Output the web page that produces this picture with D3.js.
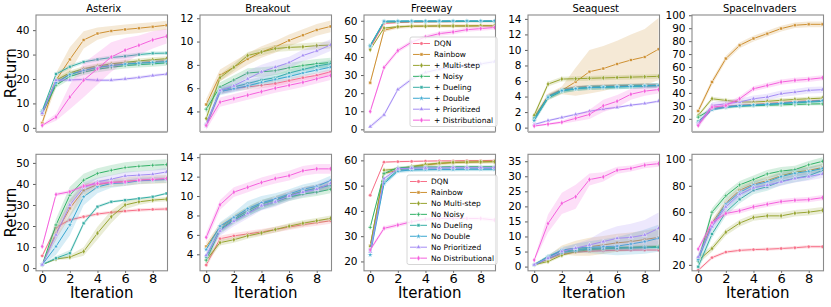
<!DOCTYPE html>
<html>
<head>
<meta charset="utf-8">
<script src="https://cdn.jsdelivr.net/npm/d3@7"></script>
<style>
body { margin: 0; background: #fff; }
svg { display: block; font-family: "DejaVu Sans", sans-serif; }
</style>
</head>
<body>
<div id="plot"></div>
<script>
// Iterations on the x axis, games across the columns.
var iterations = [0, 1, 2, 3, 4, 5, 6, 7, 8, 9];
var games = ["Asterix", "Breakout", "Freeway", "Seaquest", "SpaceInvaders"];
var addNames = ["DQN", "Rainbow", "+ Multi-step", "+ Noisy", "+ Dueling", "+ Double", "+ Prioritized", "+ Distributional"];
var ablateNames = ["DQN", "Rainbow", "No Multi-step", "No Noisy", "No Dueling", "No Double", "No Prioritized", "No Distributional"];
var colors = ["#f77189", "#ce9032", "#97a431", "#32b166", "#36ada4", "#39a7d0", "#a48cf4", "#f561dd"];

// Top row: adding one component to DQN. Series order follows addNames.
var asterixAdd = [
    [5.5, 18.5, 22, 23.5, 24.8, 25.6, 26.2, 26.7, 27.1, 27.5],
    [2, 19.5, 28, 36, 38.6, 39.7, 40.3, 40.8, 41.4, 42],
    [6.5, 19.5, 22.5, 24.2, 25.3, 26.2, 26.8, 27.4, 27.9, 28.3],
    [6, 17.5, 21, 22.8, 24, 24.8, 25.5, 25.9, 26.2, 26.6],
    [7, 22, 25, 27, 28, 28.8, 29.3, 30, 30.5, 30.6],
    [6.5, 18.5, 21.8, 23.5, 24.7, 25.5, 26.1, 26.5, 26.8, 27.1],
    [6, 19.5, 19.6, 19.8, 19.5, 19.5, 20, 20.6, 21.4, 22],
    [1, 4.4, 12.6, 19.5, 24.2, 29, 31.8, 33.8, 36, 37.5]
];
var asterixAddSpread = [1, [1, 3, 5, 3.5, 2.5, 2, 2, 2, 1.8, 1.8], 1, 1.2, 0.8, 1, 0.6,
    [0.5, 1.5, 5, 7, 6.5, 6, 5, 4, 3.5, 3]];

var breakoutAdd = [
    [2.8, 5.7, 6.0, 6.1, 6.25, 6.4, 6.65, 6.9, 7.1, 7.4],
    [4.6, 7.1, 7.8, 8.5, 9.1, 9.55, 10.1, 10.55, 11, 11.3],
    [3.4, 6.9, 7.8, 8.8, 9.1, 9.4, 9.5, 9.55, 9.65, 9.7],
    [4.2, 6.1, 6.7, 7.3, 7.4, 7.5, 7.75, 7.95, 8.1, 8.2],
    [2.9, 5.8, 6.1, 6.4, 6.7, 6.9, 7.3, 7.6, 7.9, 8.1],
    [2.8, 5.7, 5.95, 6.2, 6.5, 6.75, 7.0, 7.3, 7.55, 7.8],
    [2.9, 5.8, 6.2, 6.8, 7.4, 7.8, 8.2, 8.8, 9.2, 9.7],
    [2.8, 4.8, 5.1, 5.4, 5.7, 6.0, 6.25, 6.5, 6.8, 7.1]
];
var breakoutAddSpread = [0.25, 0.5, 0.3, 0.4, 0.3, 0.3,
    [0.1, 0.3, 0.5, 0.7, 0.6, 0.6, 0.5, 0.5, 0.5, 0.5], 0.4];

var freewayAdd = [
    [45, 58.5, 59, 59.3, 59.4, 59.5, 59.5, 59.6, 59.6, 59.7],
    [25.8, 54.8, 56.6, 57, 57.1, 57.2, 57.2, 57.2, 57.3, 57.3],
    [44, 56, 56.7, 57, 57, 57.1, 57.1, 57.1, 57.2, 57.2],
    [46, 59.3, 59.4, 59.5, 59.5, 59.5, 59.6, 59.6, 59.6, 59.6],
    [46.5, 59.8, 59.8, 59.9, 59.9, 59.9, 59.9, 59.9, 59.9, 59.9],
    [46, 59.7, 59.8, 59.8, 59.8, 59.8, 59.9, 59.9, 59.9, 59.9],
    [1.5, 8, 22, 27.7, 31.4, 33.3, 34.4, 35.3, 36.2, 37.4],
    [9.9, 34.2, 43.5, 48.2, 51, 52.9, 53.8, 55.1, 55.7, 56.3]
];
var freewayAddSpread = [0.5, 1, 0.5, 0.5, 0.5, 0.5, 1, 1.2];

var seaquestAdd = [
    [1.1, 4.1, 4.9, 5.2, 5.3, 5.35, 5.4, 5.45, 5.5, 5.5],
    [1.4, 4, 4.8, 5.9, 7.2, 7.6, 8.2, 8.7, 9.1, 10.1],
    [1.6, 5.6, 6.25, 6.3, 6.35, 6.4, 6.45, 6.5, 6.55, 6.6],
    [1.0, 3.8, 4.7, 5.0, 5.15, 5.2, 5.25, 5.3, 5.35, 5.4],
    [1.2, 4.0, 4.8, 5.05, 5.2, 5.25, 5.3, 5.35, 5.4, 5.45],
    [0.9, 3.9, 4.75, 5.0, 5.15, 5.2, 5.25, 5.3, 5.35, 5.4],
    [0.4, 0.9, 1.3, 1.7, 2.1, 2.4, 2.6, 2.9, 3.1, 3.4],
    [0.2, 0.45, 0.7, 1.2, 1.7, 2.8, 3.4, 4.3, 4.7, 4.9]
];
var seaquestAddSpread = [0.2, [0.3, 0.4, 0.5, 1.8, 2.8, 2.9, 3.0, 3.3, 3.6, 4.0], 0.3, 0.3, 0.3, 0.3, 0.15,
    [0.1, 0.15, 0.2, 0.4, 0.6, 0.8, 0.8, 0.7, 0.6, 0.5]];

var spaceAdd = [
    [17, 27.5, 29.5, 30.5, 31, 31.8, 32.5, 33.3, 33.8, 34.3],
    [26, 48.4, 66.5, 76.8, 82, 85.8, 89.7, 92.3, 93, 93],
    [22.6, 35.5, 34.2, 33, 33, 33.5, 34.3, 35, 35.5, 36],
    [21.3, 27.7, 29, 29.8, 30.2, 30.5, 30.8, 31.1, 31.4, 31.6],
    [18, 27.5, 29.3, 30, 30.5, 31, 31.7, 32.3, 32.9, 33.5],
    [16.5, 27, 29, 30, 30.6, 31.3, 32, 32.8, 33.4, 34],
    [16, 30.3, 31.6, 33, 35.5, 36.8, 39.4, 40.6, 42, 42.5],
    [14.8, 29, 30.3, 35.5, 43.2, 45.8, 48.4, 49.7, 50.5, 51.7]
];
var spaceAddSpread = [1, 2.2, 1.5, 1.2, 1, 1, 2.5, 2];

// Bottom row: removing one component from Rainbow. Series order follows ablateNames.
var asterixAblate = [
    [5.8, 19.4, 22.9, 24.4, 25.7, 26.5, 27.1, 27.6, 27.9, 28.1],
    [1.6, 16.6, 28.4, 37, 39.7, 40.7, 41.2, 41.8, 42.1, 42.3],
    [1.6, 4.3, 5.2, 7.9, 16.6, 24.4, 30, 31.5, 32.3, 32.8],
    [1.6, 20.5, 34.7, 41.8, 45, 46.5, 47.8, 48.4, 48.9, 49.2],
    [1.6, 4.7, 7.1, 21.3, 29.2, 31.5, 32.3, 33.1, 33.9, 35.5],
    [1.6, 10.3, 20.5, 33.9, 38.6, 40.2, 40.5, 41.5, 41.8, 42.1],
    [1.6, 15.8, 30, 38.3, 41, 42.3, 43.8, 44.2, 44.6, 45.7],
    [10.3, 35, 36.3, 39, 40.2, 40.7, 41, 41.8, 42.1, 42.6]
];
var asterixAblateSpread = [0.8, [0.3, 3, 4, 3, 2, 2, 2, 2, 2, 2], [0.2, 0.5, 1, 2, 3, 3, 2, 1.5, 1, 1],
    [0.3, 3, 4, 3, 2.5, 2.5, 2.5, 2.5, 2.5, 2.5], [0.2, 1, 1.5, 1, 0.8, 0.6, 0.5, 0.5, 0.5, 0.5],
    [0.3, 4, 5, 4, 3, 2, 1.5, 1.5, 1.5, 1.5], [0.3, 2.5, 3, 2.5, 2, 2, 2, 2, 2, 2], 0.8];

var breakoutAblate = [
    [2.9, 5.6, 5.9, 6.1, 6.3, 6.55, 6.8, 7.05, 7.25, 7.45],
    [4.8, 6.8, 7.7, 8.5, 9.2, 9.6, 10.1, 10.5, 10.8, 11.2],
    [3.4, 5.2, 5.5, 5.9, 6.2, 6.55, 6.9, 7.2, 7.45, 7.7],
    [3.4, 6.5, 7.5, 8.3, 9.0, 9.4, 9.9, 10.2, 10.4, 10.7],
    [3.75, 6.6, 7.6, 8.5, 9.2, 9.6, 10.0, 10.5, 10.8, 11.1],
    [4.5, 6.9, 7.8, 8.7, 9.3, 9.7, 10.2, 10.7, 11.0, 11.6],
    [3.9, 6.4, 7.4, 8.2, 9.0, 9.4, 10.0, 10.4, 10.7, 11.3],
    [5.75, 9.1, 10.4, 10.9, 11.4, 11.8, 12.1, 12.6, 12.8, 12.8]
];
var breakoutAblateSpread = [0.3, 0.4, 0.3, 0.4, 0.4,
    [0.2, 0.4, 0.5, 0.8, 0.7, 0.6, 0.5, 0.5, 0.5, 0.5], 0.5, 0.5];

var freewayAblate = [
    [46.2, 59.3, 59.5, 59.6, 59.7, 59.8, 59.8, 59.9, 59.9, 60],
    [26.2, 54.8, 56.1, 57.4, 58.2, 58.7, 59.1, 59.3, 59.4, 59.5],
    [26, 56.1, 56.6, 57.6, 58.4, 58.9, 59.2, 59.3, 59.4, 59.5],
    [33.5, 54.8, 57.1, 57.3, 57.4, 57.4, 57.5, 57.5, 57.5, 57.5],
    [24.6, 51.5, 56.1, 56.4, 56.5, 56.5, 56.5, 56.6, 56.6, 56.6],
    [22.6, 50.8, 55.7, 56.2, 56.3, 56.4, 56.4, 56.5, 56.5, 56.5],
    [23.9, 52.8, 56.7, 56.9, 57, 57, 57.1, 57.1, 57.1, 57.1],
    [24.6, 33.1, 34.4, 35.7, 36.7, 37, 37, 37, 37, 36.4]
];
var freewayAblateSpread = [0.3, 0.6, 0.6, 0.6, 0.7, 0.8, 0.7, 0.8];

var seaquestAblate = [
    [0.6, 2.5, 4.2, 4.8, 5.1, 5.3, 5.4, 5.45, 5.5, 5.5],
    [0.6, 2.8, 5.5, 6.1, 6.6, 7.2, 7.9, 8.3, 9, 9.7],
    [0.6, 1.7, 3.8, 5.0, 5.6, 5.9, 6.1, 6.3, 6.5, 6.6],
    [0.6, 3.3, 5.0, 5.7, 6.0, 6.2, 6.3, 6.4, 6.5, 6.6],
    [0.6, 2.7, 4.6, 5.4, 5.8, 6.0, 6.1, 6.2, 6.3, 6.4],
    [0.6, 3.3, 5.5, 6.1, 6.4, 6.6, 6.8, 7.5, 8.3, 9.4],
    [0.6, 2.8, 5.0, 6.1, 7.2, 8.3, 9.4, 9.7, 10.5, 12.7],
    [2.2, 14.3, 21, 23.2, 28.9, 29.8, 32, 32.6, 33.7, 34.2]
];
var seaquestAblateSpread = [0.4, [0.2, 0.8, 1.5, 2.5, 3, 3, 3, 3, 3, 3], 0.5, 0.5, 0.5,
    [0.2, 0.6, 1, 1.5, 2, 2.5, 3, 3.5, 4, 4.5], [0.2, 0.6, 1, 1.5, 2, 3.5, 4, 4.5, 5, 5.3],
    [0.5, 3, 3.5, 4, 2, 1.5, 1.2, 1, 1, 1]];

var spaceAblate = [
    [15.9, 25.5, 29.7, 31, 31.6, 31.9, 32.4, 33, 33.8, 33.8],
    [25, 51.7, 66.9, 76.6, 81.2, 84, 87.6, 90.3, 91.7, 93.9],
    [23.3, 32.4, 44.8, 51.7, 55.9, 57.2, 57.2, 59.2, 60, 61.4],
    [22.8, 60, 72.4, 80.7, 84.8, 89, 91.2, 92.3, 95.9, 98.6],
    [18.6, 43.4, 60, 69.7, 76.6, 79.3, 83.4, 85.7, 87.6, 91.7],
    [24, 50, 66, 75, 80.5, 83, 87, 89.5, 91, 93.1],
    [26, 49, 64, 73.5, 78.5, 80.5, 83, 85.5, 87, 89],
    [32, 52, 59, 61, 64, 66, 68, 69, 69.5, 71]
];
var spaceAblateSpread = [1.2, 3, 2.5, 3, 3, 3, 3, 2];

// Tick values shown on each panel's y axis.
var addTicks = [[0, 10, 20, 30, 40], [4, 6, 8, 10, 12], [0, 10, 20, 30, 40, 50, 60],
    [0, 2, 4, 6, 8, 10, 12, 14], [20, 30, 40, 50, 60, 70, 80, 90, 100]];
var ablateTicks = [[0, 10, 20, 30, 40, 50], [4, 6, 8, 10, 12, 14], [20, 30, 40, 50, 60],
    [0, 5, 10, 15, 20, 25, 30, 35], [20, 40, 60, 80, 100]];
var xTicks = [0, 2, 4, 6, 8];

var addDomains = [[-1.5, 46.2], [2.28, 12.28], [-1.2, 63.2], [-0.5, 14.5], [10.2, 100.2]];
var ablateDomains = [[-1.3, 54.1], [2.3, 14.3], [16.3, 62.4], [-1.4, 37.3], [15.5, 103.9]];

var rows = [
    {names: addNames, means: [asterixAdd, breakoutAdd, freewayAdd, seaquestAdd, spaceAdd],
     spreads: [asterixAddSpread, breakoutAddSpread, freewayAddSpread, seaquestAddSpread, spaceAddSpread],
     ticks: addTicks, domains: addDomains},
    {names: ablateNames, means: [asterixAblate, breakoutAblate, freewayAblate, seaquestAblate, spaceAblate],
     spreads: [asterixAblateSpread, breakoutAblateSpread, freewayAblateSpread, seaquestAblateSpread, spaceAblateSpread],
     ticks: ablateTicks, domains: ablateDomains}
];

var width = 831, height = 307;
var left0 = 36, colStep = 164, panelW = 131.5, panelH = 116.5;
var rowTops = [15, 154.3];
var spineColor = "#8a8a8a";
var symbols = [d3.symbolCircle, d3.symbolSquare, d3.symbolDiamond, d3.symbolCross,
    d3.symbolSquare, d3.symbolStar, d3.symbolTriangle, d3.symbolDiamond];

var svg = d3.select("div#plot").append("svg")
    .attr("width", width)
    .attr("height", height)
    .attr("viewBox", "0 0 " + width + " " + height);

var x_scale = d3.scaleLinear().domain([-0.45, 9.07]).range([0, panelW]);

function spreadAt(s, i) {
    return Array.isArray(s) ? s[i] : s;
}

rows.forEach(function(row, r) {
    games.forEach(function(game, c) {
        var g = svg.append("g")
            .attr("transform", "translate(" + (left0 + c * colStep) + "," + rowTops[r] + ")");

        var y_scale = d3.scaleLinear().domain(row.domains[c]).range([panelH, 0]);

        var clipId = "clip_" + r + "_" + c;
        g.append("clipPath").attr("id", clipId)
            .append("rect").attr("width", panelW).attr("height", panelH);

        var g_data = g.append("g").attr("clip-path", "url(#" + clipId + ")");

        // Bands, lines and markers, one series at a time like seaborn does.
        row.means[c].forEach(function(vals, k) {
            var sd = row.spreads[c][k];
            var pts = iterations.map(function(it, i) {
                return {x: it, y: vals[i], lo: vals[i] - spreadAt(sd, i), hi: vals[i] + spreadAt(sd, i)};
            });

            g_data.append("path")
                .datum(pts)
                .attr("d", d3.area()
                    .x(d => x_scale(d.x))
                    .y0(d => y_scale(d.lo))
                    .y1(d => y_scale(d.hi)))
                .style("fill", colors[k])
                .style("fill-opacity", 0.2)
                .style("stroke", "none");

            g_data.append("path")
                .datum(pts)
                .attr("d", d3.line().x(d => x_scale(d.x)).y(d => y_scale(d.y)))
                .style("fill", "none")
                .style("stroke", colors[k])
                .style("stroke-width", 1);

            g_data.selectAll("path.m" + k)
                .data(pts)
                .join("path")
                    .attr("class", "m" + k)
                    .attr("transform", d => "translate(" + x_scale(d.x) + "," + y_scale(d.y) + ")")
                    .attr("d", d3.symbol().type(symbols[k]).size(9))
                    .style("fill", colors[k])
                    .style("stroke", "#fff")
                    .style("stroke-width", 0.5);
        });

        // Y axis.
        var g_y = g.append("g")
            .call(d3.axisLeft(y_scale).tickValues(row.ticks[c]).tickSize(3).tickPadding(3.5));
        g_y.select(".domain").remove();
        g_y.selectAll(".tick line").style("stroke", "#333").style("stroke-width", 0.8);
        g_y.selectAll(".tick text")
            .style("font-family", "'DejaVu Sans'")
            .style("font-size", "10.5px")
            .style("fill", "#000");

        // X axis labels only on the bottom row.
        if (r === 1) {
            var g_x = g.append("g")
                .attr("transform", "translate(0," + panelH + ")")
                .call(d3.axisBottom(x_scale).tickValues(xTicks).tickSize(2).tickPadding(0.5));
            g_x.select(".domain").remove();
            g_x.selectAll(".tick line").style("stroke", "#333").style("stroke-width", 0.8);
            g_x.selectAll(".tick text")
                .style("font-family", "'DejaVu Sans'")
                .style("font-size", "13px")
                .style("fill", "#000");

            g.append("text")
                .attr("x", panelW / 2)
                .attr("y", panelH + 27)
                .attr("text-anchor", "middle")
                .style("font-size", "15px")
                .text("Iteration");
        } else {
            g.append("text")
                .attr("x", panelW / 2 + 2)
                .attr("y", -3)
                .attr("text-anchor", "middle")
                .style("font-size", "10px")
                .text(game);
        }

        // Spines.
        g.append("rect")
            .attr("width", panelW)
            .attr("height", panelH)
            .style("fill", "none")
            .style("stroke", spineColor)
            .style("stroke-width", 1.1);
        if (r === 0) {
            g.append("line")
                .attr("x1", 0).attr("x2", panelW)
                .attr("y1", panelH + 0.5).attr("y2", panelH + 0.5)
                .style("stroke", "#b0b0b0")
                .style("stroke-width", 2);
        }

        // Legend sits in the Freeway panel.
        if (game === "Freeway") {
            var legW = r === 0 ? 87 : 90;
            var g_leg = g.append("g")
                .attr("transform", "translate(" + (r === 0 ? 46 : 43) + "," + (r === 0 ? 22 : 20.7) + ")");
            g_leg.append("rect")
                .attr("width", legW)
                .attr("height", 89.5)
                .attr("rx", 2)
                .style("fill", "#fff")
                .style("fill-opacity", 0.8)
                .style("stroke", "#cccccc")
                .style("stroke-width", 0.8);
            row.names.forEach(function(name, k) {
                var yy = 6.5 + k * 10.95;
                g_leg.append("line")
                    .attr("x1", 3).attr("x2", 20)
                    .attr("y1", yy).attr("y2", yy)
                    .style("stroke", colors[k])
                    .style("stroke-width", 1);
                g_leg.append("path")
                    .attr("transform", "translate(11.5," + yy + ")")
                    .attr("d", d3.symbol().type(symbols[k]).size(10))
                    .style("fill", colors[k])
                    .style("stroke", "#fff")
                    .style("stroke-width", 0.5);
                g_leg.append("text")
                    .attr("x", 24)
                    .attr("y", yy)
                    .attr("dy", "0.35em")
                    .style("font-size", "7.5px")
                    .text(name);
            });
        }
    });

    // Row label on the far left.
    svg.append("text")
        .attr("transform", "translate(15.5," + (rowTops[r] + panelH / 2) + ") rotate(-90)")
        .attr("text-anchor", "middle")
        .style("font-size", "15px")
        .text("Return");
});
</script>
</body>
</html>
